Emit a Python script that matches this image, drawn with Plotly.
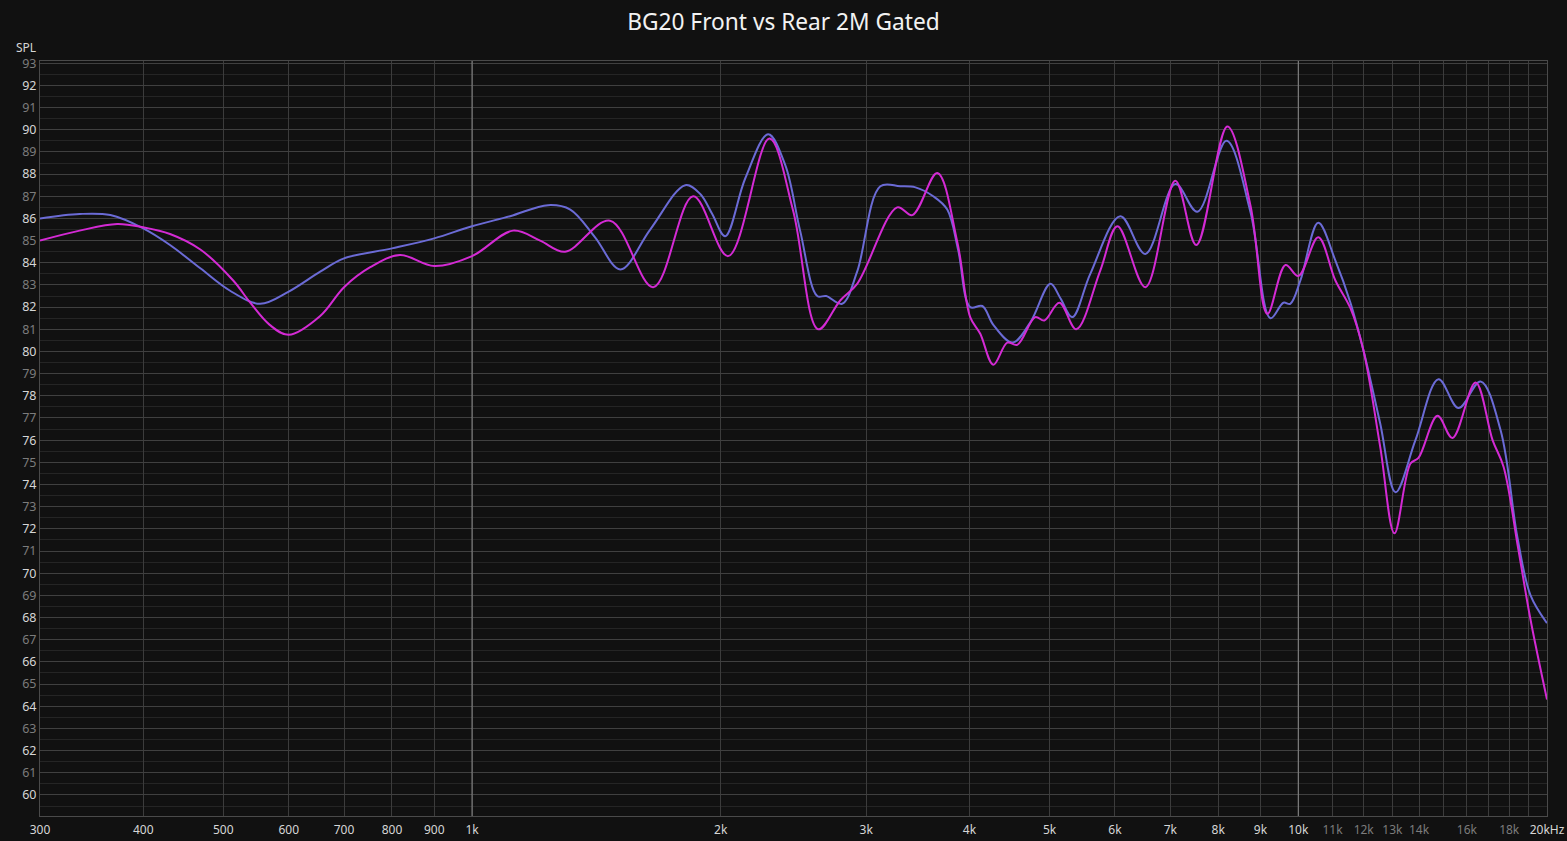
import plotly.graph_objects as go

# ---------------- data ----------------
front_freq = [300, 335, 365, 400, 431, 469, 509, 554, 600, 655, 700, 800, 900, 1000,
              1112, 1236, 1315, 1409, 1512, 1643, 1812, 1889, 1953, 2025, 2141, 2283,
              2394, 2495, 2617, 2683, 2805, 2925, 3120, 3297, 3441, 3616, 3760, 3877,
              4008, 4146, 4275, 4510, 4737, 5012, 5154, 5327, 5601, 6090, 6530, 7099,
              7548, 8185, 8751, 9253, 9594, 9779, 10059, 10573, 11090, 11565, 11991,
              12565, 13114, 13861, 14782, 15628, 16620, 17574, 18420, 19104, 20000]
front_spl = [86.0, 86.2, 86.15, 85.55, 84.8, 83.75, 82.75, 82.15, 82.7, 83.6, 84.2, 84.65,
             85.1, 85.65, 86.1, 86.6, 86.4, 85.15, 83.7, 85.5, 87.5, 87.1, 86.2, 85.2,
             87.8, 89.8, 88.4, 85.45, 82.5, 82.5, 82.15, 83.6, 87.45, 87.45, 87.4, 87.0,
             86.4, 84.55, 82.0, 82.05, 81.2, 80.4, 81.3, 83.05, 82.4, 81.55, 83.5, 86.1,
             84.4, 87.55, 86.3, 89.5, 86.3, 81.5, 82.2, 82.15, 83.2, 85.8, 84.1, 82.2,
             80.05, 76.75, 73.65, 76.0, 78.75, 77.45, 78.65, 76.45, 71.6, 69.0, 67.75]

rear_freq = [300, 335, 372, 400, 431, 469, 514, 539, 569, 600, 655, 700, 753, 818, 900,
             1000, 1121, 1209, 1296, 1469, 1657, 1852, 2042, 2290, 2447, 2624, 2790,
             2925, 3270, 3411, 3657, 3868, 4008, 4122, 4275, 4444, 4570, 4805, 4928,
             5139, 5387, 5759, 6042, 6530, 7099, 7527, 8206, 8751, 9176, 9651, 10002,
             10573, 11090, 11565, 11991, 12565, 13074, 13671, 13979, 14740, 15367,
             16390, 17185, 17719, 18469, 19104, 20000]
rear_spl = [85.0, 85.45, 85.75, 85.6, 85.3, 84.6, 83.2, 82.2, 81.2, 80.75, 81.6, 82.9,
            83.8, 84.35, 83.85, 84.3, 85.45, 85.0, 84.5, 85.9, 82.9, 87.0, 84.3, 89.6,
            86.35, 81.0, 82.3, 83.05, 86.5, 86.15, 88.05, 84.9, 81.55, 80.8, 79.4, 80.4,
            80.3, 81.55, 81.4, 82.2, 81.0, 83.65, 85.65, 82.9, 87.7, 84.8, 90.15, 86.6,
            81.7, 83.9, 83.4, 85.15, 83.2, 81.95, 80.05, 75.7, 71.8, 74.95, 75.2, 77.1,
            76.1, 78.6, 76.0, 74.8, 71.05, 67.9, 64.3]

x_tickvals = [300, 400, 500, 600, 700, 800, 900, 1000, 2000, 3000, 4000, 5000, 6000,
              7000, 8000, 9000, 10000, 11000, 12000, 13000, 14000, 15000, 16000, 17000,
              18000, 19000, 20000]
x_ticklabels = ["300", "400", "500", "600", "700", "800", "900", "1k", "2k", "3k", "4k",
                "5k", "6k", "7k", "8k", "9k", "10k", "11k", "12k", "13k", "14k", "",
                "16k", "", "18k", "", "20kHz"]
x_dim_labels = ["11k", "12k", "13k", "14k", "16k", "18k"]
bright_lines = [1000, 10000]

y_tickvals = list(range(60, 94))
y_min, y_max = 59.05, 93.1

# ---------------- styling helpers ----------------
BRIGHT = "#d6d6d6"
DIM = "#7c7c7c"

x_ticktext = [
    f"<span style='color:{DIM}'>{t}</span>" if t in x_dim_labels else t
    for t in x_ticklabels
]
y_ticktext = [
    str(v) if v % 2 == 0 else f"<span style='color:{DIM}'>{v}</span>"
    for v in y_tickvals
]

fig = go.Figure()

# brighter decade grid lines (1k, 10k)
vx, vy = [], []
for f in bright_lines:
    vx += [f, f, None]
    vy += [y_min, y_max, None]
fig.add_trace(go.Scatter(x=vx, y=vy, mode="lines",
                         line=dict(color="#8a8a8a", width=1),
                         hoverinfo="skip", showlegend=False))

fig.add_trace(go.Scatter(x=front_freq, y=front_spl, mode="lines", name="Front",
                         line=dict(color="#6b6bd6", width=2, shape="spline", smoothing=1.0)))
fig.add_trace(go.Scatter(x=rear_freq, y=rear_spl, mode="lines", name="Rear",
                         line=dict(color="#d42ad4", width=2, shape="spline", smoothing=1.0)))

fig.update_layout(
    width=1567, height=841,
    paper_bgcolor="#111111", plot_bgcolor="#111111",
    margin=dict(l=40, r=20, t=61, b=25, autoexpand=False),
    showlegend=False,
    font=dict(family="Noto Sans", color=BRIGHT, size=12),
    title=dict(text="BG20 Front vs Rear 2M Gated", x=0.5, xref="container",
               y=1 - 22 / 841, yref="container", yanchor="middle", xanchor="center",
               font=dict(family="Noto Sans", size=22.7, color="#f2f2f2")),
    xaxis=dict(type="log", range=[2.4771213, 4.30103], tickvals=x_tickvals,
               ticktext=x_ticktext, showgrid=True, gridcolor="#3c3c3c", gridwidth=1,
               zeroline=False, showline=True, linecolor="#4a4a4a", mirror=True,
               automargin=False,
               ticks="", ticklabelstandoff=3, tickfont=dict(size=12, color=BRIGHT)),
    yaxis=dict(range=[y_min, y_max], tickvals=y_tickvals, ticktext=y_ticktext,
               showgrid=True, gridcolor="#404040", gridwidth=1, zeroline=False,
               showline=True, linecolor="#4a4a4a", mirror=True, ticks="",
               automargin=False,
               ticklabelstandoff=0, tickfont=dict(size=12.5, color=BRIGHT),
               minor=dict(dtick=0.5, tick0=0, showgrid=True, gridcolor="#252525")),
    annotations=[dict(text="SPL", xref="paper", yref="paper", x=0, y=1,
                      xanchor="right", yanchor="bottom", xshift=-2, yshift=3,
                      showarrow=False, font=dict(size=12, color=BRIGHT))],
)

fig.write_html(
    "out.html",
    config={"displayModeBar": False},
    post_script="document.body.style.margin='0';document.body.style.background='#111111';",
)
